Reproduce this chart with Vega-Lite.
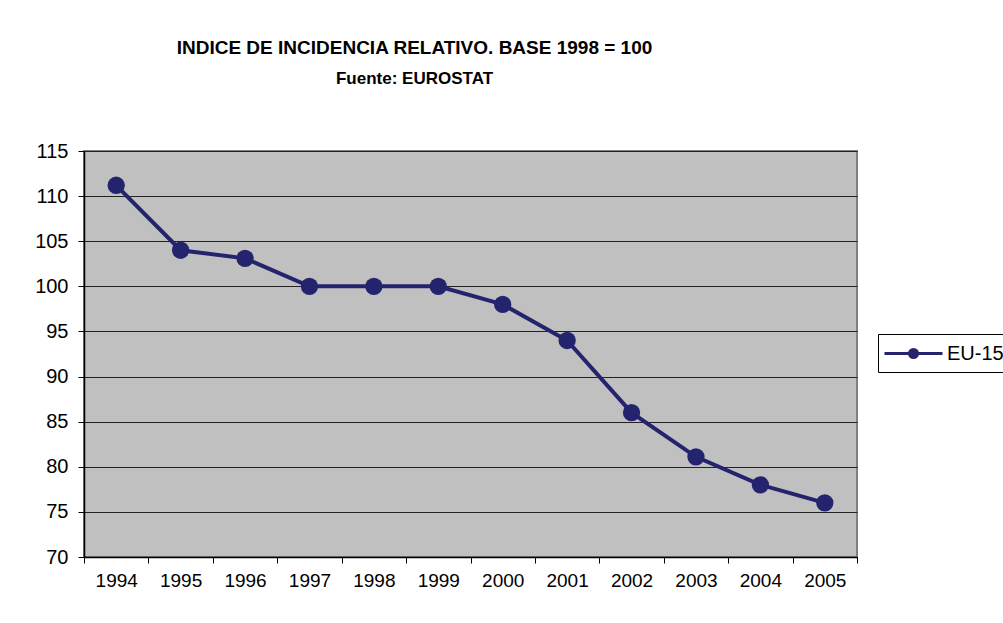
{
  "$schema": "https://vega.github.io/schema/vega-lite/v6.json",
  "width": 773,
  "height": 406,
  "autosize": "none",
  "padding": {"left": 84, "top": 151, "right": 146, "bottom": 66},
  "background": "white",
  "title": {
    "text": "INDICE DE INCIDENCIA RELATIVO. BASE 1998 = 100",
    "subtitle": "Fuente: EUROSTAT",
    "anchor": "middle",
    "dx": -56,
    "offset": 54,
    "font": "'Liberation Sans', Arial",
    "fontSize": 19,
    "fontWeight": "bold",
    "color": "black",
    "subtitleFont": "'Liberation Sans', Arial",
    "subtitleFontSize": 17,
    "subtitleFontWeight": "bold",
    "subtitleColor": "black",
    "subtitlePadding": 13
  },
  "data": {
    "values": [
      {"year": "1994", "value": 111.2, "series": "EU-15"},
      {"year": "1995", "value": 104, "series": "EU-15"},
      {"year": "1996", "value": 103.1, "series": "EU-15"},
      {"year": "1997", "value": 100, "series": "EU-15"},
      {"year": "1998", "value": 100, "series": "EU-15"},
      {"year": "1999", "value": 100, "series": "EU-15"},
      {"year": "2000", "value": 98, "series": "EU-15"},
      {"year": "2001", "value": 94, "series": "EU-15"},
      {"year": "2002", "value": 86, "series": "EU-15"},
      {"year": "2003", "value": 81.1, "series": "EU-15"},
      {"year": "2004", "value": 78, "series": "EU-15"},
      {"year": "2005", "value": 76, "series": "EU-15"}
    ]
  },
  "encoding": {
    "x": {
      "field": "year",
      "type": "ordinal",
      "scale": {"type": "band", "paddingInner": 0, "paddingOuter": 0},
      "axis": {
        "title": null,
        "labelAngle": 0,
        "tickBand": "extent",
        "tickSize": 6,
        "tickColor": "black",
        "domainColor": "black",
        "domainWidth": 1.5,
        "labelPadding": 8,
        "labelFont": "'Liberation Sans', Arial",
        "labelFontSize": 19,
        "labelColor": "black",
        "grid": false
      }
    },
    "y": {
      "field": "value",
      "type": "quantitative",
      "scale": {"domain": [70, 115], "nice": false, "zero": false},
      "axis": {
        "title": null,
        "values": [70, 75, 80, 85, 90, 95, 100, 105, 110, 115],
        "tickSize": 6,
        "tickColor": "black",
        "domainColor": "black",
        "domainWidth": 1.5,
        "labelPadding": 10,
        "labelFont": "'Liberation Sans', Arial",
        "labelFontSize": 20,
        "labelColor": "black",
        "grid": true,
        "gridColor": "#222222",
        "gridWidth": 1.2,
        "gridOpacity": 1
      }
    },
    "color": {
      "field": "series",
      "type": "nominal",
      "scale": {"range": ["#24246E"]},
      "legend": {
        "title": null,
        "orient": "none",
        "legendX": 794,
        "legendY": 183,
        "padding": 8,
        "strokeColor": "black",
        "fillColor": "white",
        "symbolType": "M-2.9,0H2.9M0.4,0A0.4,0.4,0,1,1,-0.4,0A0.4,0.4,0,1,1,0.4,0Z",
        "symbolSize": 400,
        "symbolOffset": 16,
        "symbolFillColor": "#24246E",
        "symbolStrokeColor": "#24246E",
        "symbolStrokeWidth": 3,
        "labelOffset": 22,
        "labelFont": "'Liberation Sans', Arial",
        "labelFontSize": 20,
        "labelColor": "black"
      }
    }
  },
  "layer": [
    {"mark": {"type": "line", "strokeWidth": 4}},
    {"mark": {"type": "point", "filled": true, "size": 300, "opacity": 1}}
  ],
  "config": {
    "view": {"fill": "#C0C0C0", "stroke": "#808080", "strokeWidth": 2}
  }
}
